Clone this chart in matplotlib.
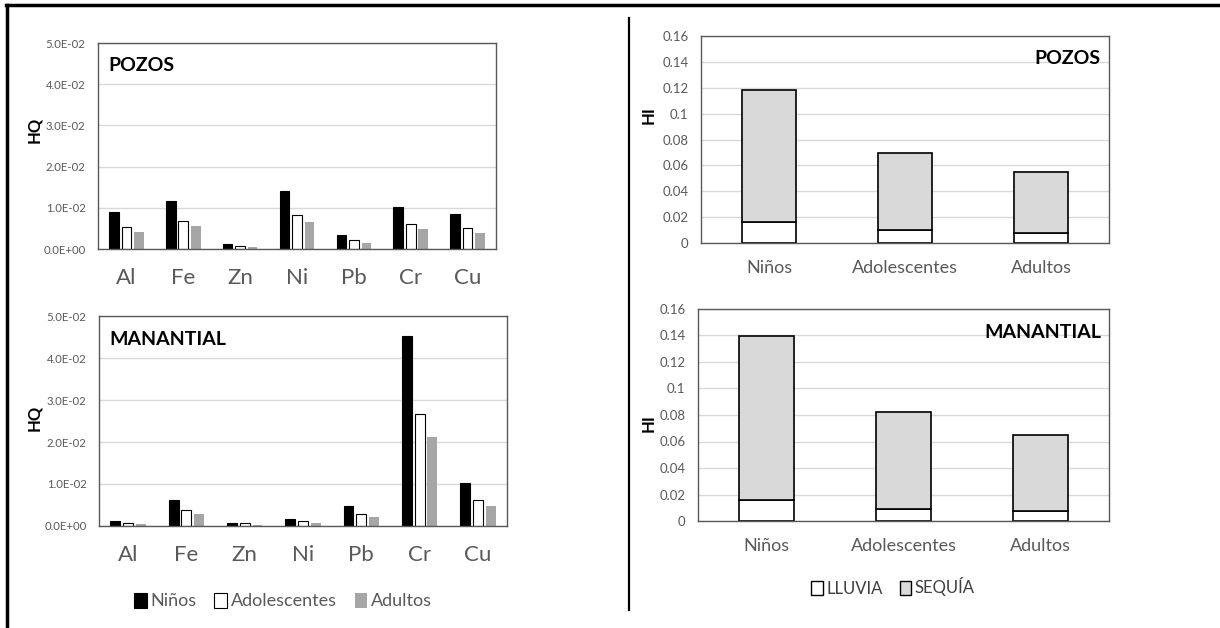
import matplotlib
matplotlib.use("Agg")
import matplotlib.pyplot as plt
import numpy as np
from matplotlib.patches import Patch
from matplotlib.lines import Line2D

plt.rcParams['font.family'] = ['Liberation Sans Narrow', 'Lato', 'DejaVu Sans']

# ---------------- data ----------------
metals = ["Al", "Fe", "Zn", "Ni", "Pb", "Cr", "Cu"]
groups = ["Niños", "Adolescentes", "Adultos"]

pozos_ninos = [0.0091, 0.0117, 0.0011, 0.0140, 0.0033, 0.0103, 0.0086]
pozos_adol = [0.0054, 0.0069, 0.0007, 0.0082, 0.0021, 0.0061, 0.0052]
pozos_adul = [0.0042, 0.0055, 0.0005, 0.0065, 0.0015, 0.0048, 0.0040]

man_ninos = [0.0011, 0.0063, 0.0008, 0.0016, 0.0047, 0.0452, 0.0102]
man_adol = [0.0007, 0.0038, 0.0006, 0.0011, 0.0029, 0.0266, 0.0061]
man_adul = [0.0005, 0.0029, 0.0003, 0.0008, 0.0021, 0.0212, 0.0048]

hi_pozos_lluvia = [0.0165, 0.0098, 0.0077]
hi_pozos_sequia = [0.1015, 0.0598, 0.0474]
hi_man_lluvia = [0.0156, 0.0091, 0.0073]
hi_man_sequia = [0.1237, 0.0728, 0.0577]

hq_ticks = [0, 0.01, 0.02, 0.03, 0.04, 0.05]
hq_ticklabels = ["0.0E+00", "1.0E-02", "2.0E-02", "3.0E-02", "4.0E-02", "5.0E-02"]
hi_ticks = [0, 0.02, 0.04, 0.06, 0.08, 0.1, 0.12, 0.14, 0.16]
hi_ticklabels = ["0", "0.02", "0.04", "0.06", "0.08", "0.1", "0.12", "0.14", "0.16"]

# ---------------- figure ----------------
W, H = 1220, 628
fig = plt.figure(figsize=(W / 100, H / 100), dpi=100)


def add_ax(x0, y0, x1, y1):
    return fig.add_axes([x0 / W, 1 - y1 / H, (x1 - x0) / W, (y1 - y0) / H])


TICK_COL = "#595959"
GRID_COL = "#d9d9d9"
SPINE_COL = "#595959"


def style_ax(ax):
    for s in ax.spines.values():
        s.set_color(SPINE_COL)
        s.set_linewidth(1.0)
    ax.grid(axis='y', color=GRID_COL, linewidth=1.0)
    ax.set_axisbelow(True)
    ax.tick_params(axis='both', length=0, colors=TICK_COL)


def hq_panel(ax, a, b, c, title, ylabel_y):
    x = np.arange(len(metals))
    w = 0.17
    off = 0.22
    ax.bar(x - off, a, w, color="black", edgecolor="black", linewidth=0.8)
    ax.bar(x, b, w, color="white", edgecolor="black", linewidth=0.8)
    ax.bar(x + off, c, w, color="#a6a6a6", edgecolor="none")
    ax.set_xlim(-0.5, len(metals) - 0.5)
    ax.set_ylim(0, 0.05)
    ax.set_yticks(hq_ticks)
    ax.set_yticklabels(hq_ticklabels, fontsize=8.2)
    ax.set_xticks(x)
    ax.set_xticklabels(metals, fontsize=16)
    ax.tick_params(axis='x', pad=14, colors="#404040")
    ax.tick_params(axis='y', pad=9)
    style_ax(ax)
    ax.text(0.025, 0.93, title, transform=ax.transAxes, fontsize=14,
            fontweight='bold', va='top', ha='left', family=['Lato', 'DejaVu Sans'])
    fig.text(34 / W, 1 - ylabel_y / H, "HQ", rotation=90, fontsize=12,
             fontweight='bold', ha='center', va='center', family=['Lato', 'DejaVu Sans'])


def hi_panel(ax, ll, sq, title, ylabel_y):
    x = np.arange(len(groups))
    w = 0.40
    ax.bar(x, ll, w, color="white", edgecolor="black", linewidth=1.2)
    ax.bar(x, sq, w, bottom=ll, color="#d9d9d9", edgecolor="black", linewidth=1.2)
    ax.set_xlim(-0.5, len(groups) - 0.5)
    ax.set_ylim(0, 0.16)
    ax.set_yticks(hi_ticks)
    ax.set_yticklabels(hi_ticklabels, fontsize=9.5)
    ax.set_xticks(x)
    ax.set_xticklabels(groups, fontsize=13)
    ax.tick_params(axis='x', pad=12, colors="#404040")
    ax.tick_params(axis='y', pad=9)
    style_ax(ax)
    ax.text(0.98, 0.93, title, transform=ax.transAxes, fontsize=14,
            fontweight='bold', va='top', ha='right', family=['Lato', 'DejaVu Sans'])
    fig.text(649 / W, 1 - ylabel_y / H, "HI", rotation=90, fontsize=12,
             fontweight='bold', ha='center', va='center', family=['Lato', 'DejaVu Sans'])


ax1 = add_ax(98, 43, 496, 249)
hq_panel(ax1, pozos_ninos, pozos_adol, pozos_adul, "POZOS", 130)

ax2 = add_ax(99, 316, 507, 526)
hq_panel(ax2, man_ninos, man_adol, man_adul, "MANANTIAL", 418)

ax3 = add_ax(701, 36, 1109, 243)
hi_panel(ax3, hi_pozos_lluvia, hi_pozos_sequia, "POZOS", 115)

ax4 = add_ax(698, 309, 1109, 521)
hi_panel(ax4, hi_man_lluvia, hi_man_sequia, "MANANTIAL", 423)

# legends
h1 = [Patch(facecolor="black", edgecolor="black", linewidth=0.8),
      Patch(facecolor="white", edgecolor="black", linewidth=0.8),
      Patch(facecolor="#a6a6a6", edgecolor="none")]
leg1 = fig.legend(h1, groups, loc='center', bbox_to_anchor=(283 / W, 1 - 601 / H),
                  ncol=3, frameon=False, fontsize=13, handlelength=0.7, handleheight=0.9,
                  handletextpad=0.2, columnspacing=1.0)
for t in leg1.get_texts():
    t.set_color("#595959")

h2 = [Patch(facecolor="white", edgecolor="black", linewidth=1.0),
      Patch(facecolor="#d9d9d9", edgecolor="black", linewidth=1.0)]
leg2 = fig.legend(h2, ["LLUVIA", "SEQUÍA"], loc='center', bbox_to_anchor=(893 / W, 1 - 587 / H),
                  ncol=2, frameon=False, fontsize=12, handlelength=0.7, handleheight=0.9,
                  handletextpad=0.2, columnspacing=1.0)
for t in leg2.get_texts():
    t.set_color("#404040")

# frame lines
fig.add_artist(Line2D([6 / W, 1.0], [1 - 5 / H, 1 - 5 / H], color="black", linewidth=2.5,
                      transform=fig.transFigure))
fig.add_artist(Line2D([7 / W, 7 / W], [0.0, 1 - 5 / H], color="black", linewidth=2.5,
                      transform=fig.transFigure))
fig.add_artist(Line2D([629 / W, 629 / W], [1 - 610 / H, 1 - 18 / H], color="black", linewidth=1.6,
                      transform=fig.transFigure))

fig.savefig("out.png", dpi=100)
